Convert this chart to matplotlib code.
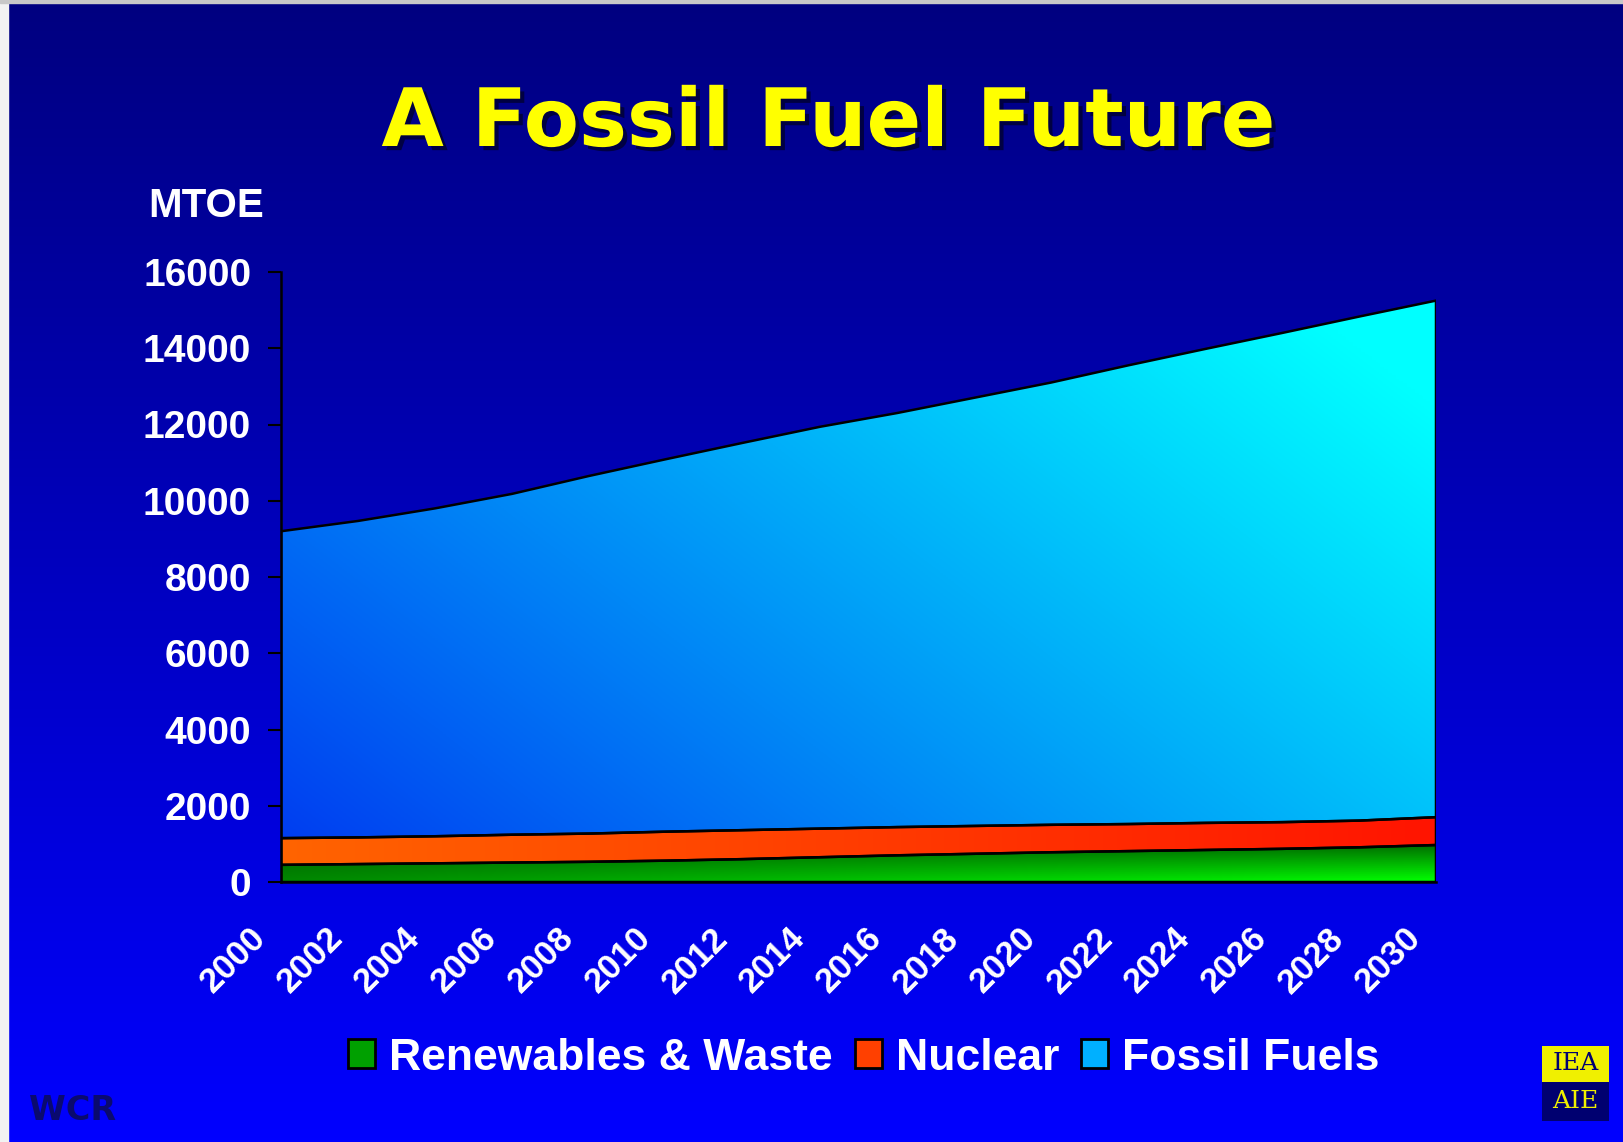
import numpy as np
import matplotlib
matplotlib.use("Agg")
import matplotlib.pyplot as plt
from matplotlib.patches import Rectangle
from matplotlib.transforms import ScaledTranslation
from matplotlib import patheffects

# data (MTOE, stacked)
years = [2000, 2002, 2004, 2006, 2008, 2010, 2012, 2014, 2016, 2018,
         2020, 2022, 2024, 2026, 2028, 2030]
renewables = [450, 470, 490, 510, 530, 560, 600, 650, 700, 740,
              780, 810, 840, 870, 910, 970]
nuclear = [700, 700, 710, 730, 740, 760, 760, 750, 740, 730,
           720, 710, 710, 700, 700, 730]
fossil = [8050, 8300, 8600, 8940, 9380, 9770, 10160, 10540, 10860, 11230,
          11600, 12030, 12430, 12830, 13220, 13550]
labels = ["Renewables & Waste", "Nuclear", "Fossil Fuels"]
yticks = list(range(0, 16001, 2000))
xticks = list(range(2000, 2031, 2))

W, H = 1624, 1142
fig = plt.figure(figsize=(W / 100, H / 100), dpi=100)

# background: navy at top -> blue at bottom
bg = fig.add_axes([0, 0, 1, 1], zorder=-10)
grad = np.linspace(0, 1, 256)[:, None]
bg_img = np.zeros((256, 2, 3))
bg_img[..., 2] = (128 + 127 * grad) / 255
bg.imshow(bg_img, aspect="auto", extent=[0, 1, 0, 1], origin="upper")
bg.add_patch(Rectangle((0, 0), 8 / W, 1, color="#f2f2f2"))
bg.add_patch(Rectangle((0, 1 - 3 / H), 1, 3 / H, color="#c8c8c8"))
bg.set_xlim(0, 1)
bg.set_ylim(0, 1)
bg.axis("off")

ax = fig.add_axes([281 / W, 1 - 882 / H, (1436 - 281) / W, (882 - 272) / H])
ax.set_facecolor("none")

x = np.array(years, dtype=float)
r = np.array(renewables, dtype=float)
n = np.array(nuclear, dtype=float)
f = np.array(fossil, dtype=float)
layers = [(np.zeros_like(r), r), (r, r + n), (r + n, r + n + f)]

# gradient images for each layer
gx, gy = np.meshgrid(np.linspace(0, 1, 300), np.linspace(0, 1, 300))
def grad_green():
    w = np.clip(1 - gy / 0.065, 0, 1)
    img = np.zeros(gx.shape + (3,))
    img[..., 1] = (95 + 40 * w + 120 * gx * w) / 255
    return np.clip(img, 0, 1)
def grad_red():
    img = np.zeros(gx.shape + (3,))
    img[..., 0] = 1.0
    img[..., 1] = (100 - 80 * gx) / 255
    return img
def grad_cyan():
    t = np.clip(0.65 * gx + 0.45 * gy, 0, 1)
    img = np.zeros(gx.shape + (3,))
    img[..., 1] = (55 + 200 * t) / 255
    img[..., 2] = (240 + 15 * t) / 255
    return np.clip(img, 0, 1)

grads = [grad_green(), grad_red(), grad_cyan()]
for (lo, hi), g in zip(layers, grads):
    poly = ax.fill_between(x, lo, hi, facecolor="none", edgecolor="black",
                           linewidth=1.8, zorder=3)
    im = ax.imshow(g, extent=[2000, 2030, 0, 16000], origin="lower",
                   aspect="auto", zorder=2)
    im.set_clip_path(poly.get_paths()[0], ax.transData)

ax.set_xlim(2000, 2030)
ax.set_ylim(0, 16000)
ax.set_yticks(yticks)
ax.set_xticks(xticks)
for s in ["top", "right"]:
    ax.spines[s].set_visible(False)
for s in ["left", "bottom"]:
    ax.spines[s].set_color("black")
    ax.spines[s].set_linewidth(1.8)
    ax.spines[s].set_zorder(4)
ax.tick_params(axis="y", length=9.5, width=1.5, color="black", pad=12,
               labelcolor="white", labelsize=28)
ax.tick_params(axis="x", length=0, pad=14, labelcolor="white", labelsize=25)
for lab in ax.get_yticklabels():
    lab.set_fontfamily("Liberation Sans")
    lab.set_fontweight("bold")
shift = ScaledTranslation(-0.32, -0.20, fig.dpi_scale_trans)
for lab in ax.get_xticklabels():
    lab.set_fontfamily("Liberation Sans")
    lab.set_fontweight("bold")
    lab.set_rotation(45)
    lab.set_ha("right")
    lab.set_va("top")
    lab.set_rotation_mode("anchor")
    lab.set_transform(lab.get_transform() + shift)

# title
fig.text(0.51, 1 - 146 / H, "A Fossil Fuel Future", ha="center", va="baseline",
         fontsize=58, fontweight="bold", color="#ffff00", family="DejaVu Sans",
         path_effects=[patheffects.withSimplePatchShadow(offset=(3, -3),
                                                         shadow_rgbFace="#000030",
                                                         alpha=0.8)])
fig.text(148 / W, 1 - 217 / H, "MTOE", ha="left", va="baseline", fontsize=29,
         fontweight="bold", color="white", family="Liberation Sans")

# legend
colors = ["#00a000", "#ff4000", "#00b0ff"]
handles = [Rectangle((0, 0), 1, 1, facecolor=c, edgecolor="black", linewidth=2)
           for c in colors]
leg = fig.legend(handles, labels, loc="center", bbox_to_anchor=(864 / W, 1 - 1058 / H),
                 ncol=3, frameon=False, handlelength=0.6, handleheight=0.62,
                 handletextpad=0.32, columnspacing=0.5,
                 prop={"family": "Liberation Sans", "weight": "bold", "size": 32})
for t in leg.get_texts():
    t.set_color("white")

# WCR mark
fig.text(29 / W, 1 - 1120 / H, "WCR", ha="left", va="baseline", fontsize=24,
         fontweight="bold", color="#0a0a6e", family="DejaVu Sans")

# logo
fig.patches.append(Rectangle((1542 / W, 1 - 1082 / H), 67 / W, 36 / H,
                             transform=fig.transFigure, facecolor="#f0f000",
                             edgecolor="none"))
fig.patches.append(Rectangle((1542 / W, 1 - 1121 / H), 67 / W, 39 / H,
                             transform=fig.transFigure, facecolor="#000070",
                             edgecolor="none"))
fig.text(1575.5 / W, 1 - 1064 / H, "IEA", ha="center", va="center", fontsize=18,
         color="#000070", family="DejaVu Serif")
fig.text(1575.5 / W, 1 - 1102 / H, "AIE", ha="center", va="center", fontsize=18,
         color="#f0f000", family="DejaVu Serif")

fig.savefig("out.png", dpi=100)
